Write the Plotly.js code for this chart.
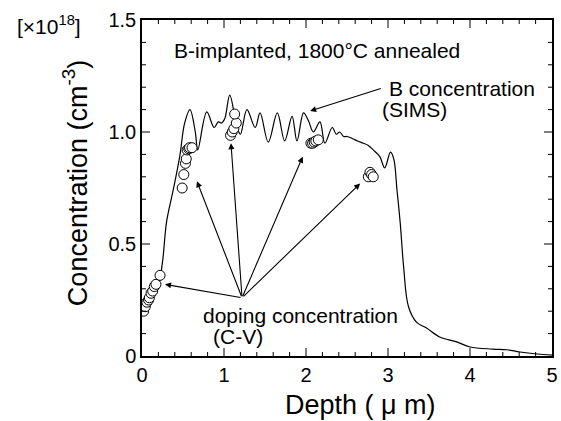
<!DOCTYPE html>
<html>
<head>
<meta charset="utf-8">
<script src="https://cdn.plot.ly/plotly-3.0.1.min.js"></script>
<style>html,body{margin:0;padding:0;background:#fff;}#chart{width:561px;height:421px;}</style>
</head>
<body>
<div id="chart"></div>
<script>
// SIMS boron profile (depth in um, concentration in 1e18 cm^-3)
const simsDepth = [0, 0.1, 0.2, 0.25, 0.3, 0.38, 0.46, 0.52, 0.585, 0.65,
  0.68, 0.79, 0.88, 0.93, 0.97, 1.01, 1.07, 1.16, 1.2, 1.28,
  1.38, 1.44, 1.54, 1.65, 1.74, 1.83, 1.89, 1.97, 2.03, 2.09,
  2.17, 2.23, 2.32, 2.37, 2.41, 2.46, 2.50, 2.57, 2.63, 2.70,
  2.76, 2.82, 2.90, 2.96, 3.03, 3.07, 3.11, 3.15, 3.19, 3.25,
  3.35, 3.47, 3.63, 3.84, 4.0, 4.28, 4.45, 4.61, 4.82, 5.0];
const simsConc = [0.22, 0.27, 0.32, 0.42, 0.60, 0.74, 0.89, 1.04, 1.10, 1.0,
  0.92, 1.09, 1.02, 1.045, 1.04, 1.06, 1.165, 1.02, 0.99, 1.10,
  1.02, 1.085, 0.955, 1.085, 0.96, 1.07, 0.96, 1.085, 1.05, 1.0,
  1.045, 0.95, 1.02, 0.99, 1.0, 0.98, 0.98, 0.97, 0.96, 0.95,
  0.94, 0.92, 0.89, 0.84, 0.91, 0.88, 0.74, 0.59, 0.40, 0.22,
  0.15, 0.125, 0.085, 0.063, 0.04, 0.031, 0.028, 0.018, 0.009, 0.004];

// C-V doping concentration points
const cvDepth = [0.02, 0.04, 0.06, 0.08, 0.09, 0.11, 0.13, 0.15, 0.17, 0.22,
  0.49, 0.51, 0.53, 0.54, 0.55, 0.57, 0.58, 0.61,
  1.08, 1.10, 1.12, 1.15, 1.13,
  2.06, 2.08, 2.10, 2.12, 2.15,
  2.76, 2.78, 2.80, 2.82];
const cvConc = [0.20, 0.22, 0.24, 0.25, 0.26, 0.28, 0.29, 0.31, 0.32, 0.36,
  0.75, 0.81, 0.86, 0.88, 0.92, 0.925, 0.93, 0.93,
  0.985, 1.0, 1.015, 1.04, 1.08,
  0.95, 0.95, 0.955, 0.96, 0.965,
  0.80, 0.82, 0.81, 0.80];

// arrow targets from the "doping concentration" label
const cvArrowHeadX = [0.28, 0.67, 1.085, 1.96, 2.66];
const cvArrowHeadY = [0.32, 0.78, 0.95, 0.89, 0.77];
const cvArrowTail = [1.22, 0.26];
const simsArrowHead = [2.05, 1.094];
const simsArrowTail = [2.93, 1.196];

// axis ranges and tick steps
const xRange = [0, 5];
const yRange = [0, 1.5];
const xMajorStep = 1, xMinorStep = 0.2;
const yMajorStep = 0.5, yMinorStep = 0.1;

const FONT = 'Liberation Sans, Arial, Helvetica, sans-serif';

const traces = [
  {x: simsDepth, y: simsConc, type: 'scatter', mode: 'lines',
   line: {color: '#000', width: 1.2, shape: 'spline', smoothing: 1}, hoverinfo: 'skip', showlegend: false},
  {x: cvDepth, y: cvConc, type: 'scatter', mode: 'markers',
   marker: {symbol: 'circle', size: 10, color: '#fff', line: {color: '#000', width: 1}},
   showlegend: false}
];

const annotations = [];
for (let i = 0; i < cvArrowHeadX.length; i++) {
  annotations.push({xref: 'x', yref: 'y', axref: 'x', ayref: 'y',
    x: cvArrowHeadX[i], y: cvArrowHeadY[i], ax: cvArrowTail[0], ay: cvArrowTail[1],
    text: '', showarrow: true, arrowhead: 2, arrowsize: 1.1, arrowwidth: 1.1,
    arrowcolor: '#000', standoff: 0, startstandoff: 0});
}
annotations.push({xref: 'x', yref: 'y', axref: 'x', ayref: 'y',
  x: simsArrowHead[0], y: simsArrowHead[1], ax: simsArrowTail[0], ay: simsArrowTail[1],
  text: '', showarrow: true, arrowhead: 2, arrowsize: 1.1, arrowwidth: 1.1,
  arrowcolor: '#000', standoff: 0});

const txt = (t, x, y, opts) => Object.assign({xref: 'x', yref: 'y', x: x, y: y, text: t,
  xanchor: 'center', yanchor: 'middle',
  showarrow: false, font: {family: FONT, size: 21, color: '#000'}}, opts || {});

annotations.push(txt('B-implanted, 1800°C annealed', 2.14, 1.366));
annotations.push(txt('B concentration', 2.99, 1.195, {xanchor: 'left'}));
annotations.push(txt('(SIMS)', 3.32, 1.10));
annotations.push(txt('doping concentration', 1.93, 0.183));
annotations.push(txt('(C-V)', 1.17, 0.085));
annotations.push({xref: 'paper', yref: 'paper', x: -0.31, y: 0.985, xanchor: 'left', yanchor: 'middle',
  text: '[×10<sup>18</sup>]', showarrow: false, font: {family: FONT, size: 21, color: '#000'}});
annotations.push({xref: 'paper', yref: 'paper', x: -0.163, y: 0.515, xanchor: 'center', yanchor: 'middle',
  textangle: -90,
  text: 'Concentration (cm<sup>-3</sup>)', showarrow: false, font: {family: FONT, size: 27, color: '#000'}});
annotations.push({xref: 'paper', yref: 'paper', x: 0.534, y: -0.146, xanchor: 'center', yanchor: 'middle',
  text: 'Depth ( μ m)', showarrow: false, font: {family: FONT, size: 27, color: '#000'}});

// inward tick marks on all four sides, positioned on the axes' own scales
const shapes = [];
const tickLine = {color: '#000', width: 1};
function addXTick(v, len) {
  shapes.push({type: 'line', layer: 'above', xref: 'x', yref: 'paper', ysizemode: 'pixel',
    yanchor: 0, x0: v, x1: v, y0: 0, y1: len, line: tickLine});
  shapes.push({type: 'line', layer: 'above', xref: 'x', yref: 'paper', ysizemode: 'pixel',
    yanchor: 1, x0: v, x1: v, y0: 0, y1: -len, line: tickLine});
}
function addYTick(v, len) {
  shapes.push({type: 'line', layer: 'above', xref: 'paper', yref: 'y', xsizemode: 'pixel',
    xanchor: 0, y0: v, y1: v, x0: 0, x1: len, line: tickLine});
  shapes.push({type: 'line', layer: 'above', xref: 'paper', yref: 'y', xsizemode: 'pixel',
    xanchor: 1, y0: v, y1: v, x0: 0, x1: -len, line: tickLine});
}
const nx = Math.round((xRange[1] - xRange[0]) / xMinorStep);
for (let i = 1; i < nx; i++) {
  const v = +(xRange[0] + i * xMinorStep).toFixed(6);
  const major = Math.abs(v / xMajorStep - Math.round(v / xMajorStep)) < 1e-6;
  addXTick(v, major ? 8 : 4);
}
const ny = Math.round((yRange[1] - yRange[0]) / yMinorStep);
for (let i = 1; i < ny; i++) {
  const v = +(yRange[0] + i * yMinorStep).toFixed(6);
  const major = Math.abs(v / yMajorStep - Math.round(v / yMajorStep)) < 1e-6;
  addYTick(v, major ? 8 : 4);
}

const layout = {
  width: 561, height: 421,
  margin: {l: 142, r: 9, t: 20, b: 65},
  paper_bgcolor: '#ffffff', plot_bgcolor: '#ffffff',
  xaxis: {range: xRange, dtick: xMajorStep, tick0: 0, showgrid: false, zeroline: false,
    showline: true, linecolor: 'black', linewidth: 1.5, mirror: true, ticks: '',
    tickfont: {family: FONT, size: 20, color: '#000'}},
  yaxis: {range: yRange, dtick: yMajorStep, tick0: 0, showgrid: false, zeroline: false,
    showline: true, linecolor: 'black', linewidth: 1.5, mirror: true, ticks: '',
    tickformat: '.1f', labelalias: {'0.0': '0'},
    tickfont: {family: FONT, size: 20, color: '#000'}},
  shapes: shapes,
  annotations: annotations,
  showlegend: false
};

Plotly.newPlot('chart', traces, layout, {displayModeBar: false});
</script>
</body>
</html>
